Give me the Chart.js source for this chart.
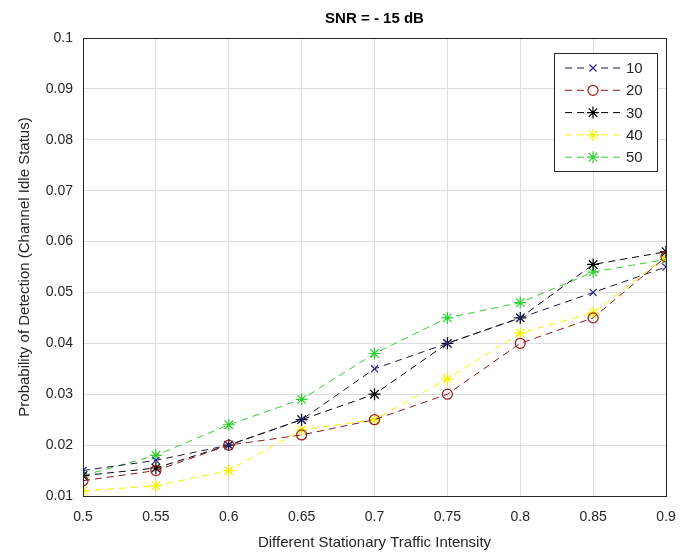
<!DOCTYPE html>
<html>
<head>
<meta charset="utf-8">
<script src="https://cdn.jsdelivr.net/npm/chart.js@4/dist/chart.umd.min.js"></script>
<style>
  body { margin: 0; background: #fff; }
  #wrap { width: 694px; height: 556px; }
</style>
</head>
<body>
<div id="wrap"><canvas id="snrChart" width="694" height="556"></canvas></div>
<script>
// values
const trafficIntensity = [0.5, 0.55, 0.6, 0.65, 0.7, 0.75, 0.8, 0.85, 0.9];
const seriesNames = ['10', '20', '30', '40', '50'];
const pd10 = [0.015, 0.017, 0.020, 0.025, 0.035, 0.040, 0.045, 0.050, 0.055];
const pd20 = [0.013, 0.015, 0.020, 0.022, 0.025, 0.030, 0.040, 0.045, 0.057];
const pd30 = [0.014, 0.0155, 0.020, 0.025, 0.030, 0.040, 0.045, 0.0555, 0.058];
const pd40 = [0.011, 0.012, 0.015, 0.023, 0.025, 0.033, 0.042, 0.046, 0.057];
const pd50 = [0.014, 0.018, 0.024, 0.029, 0.038, 0.045, 0.048, 0.054, 0.0565];
const yTicks = [0.01, 0.02, 0.03, 0.04, 0.05, 0.06, 0.07, 0.08, 0.09, 0.1];
const xTicks = trafficIntensity;

const lineColors = ['#1c1c3a', '#8b1a1a', '#000000', '#f2f200', '#2fd02f'];
const markerColors = ['#25258f', '#a01818', '#000000', '#f2f200', '#2fd02f'];
const markerStyles = ['crossRot', 'circle', 'star', 'star', 'star'];
const markerSizes = [5, 5, 6, 6, 6];
const allSeries = [pd10, pd20, pd30, pd40, pd50];

function makeDataset(i) {
  return {
    label: seriesNames[i],
    data: trafficIntensity.map((x, k) => ({ x: x, y: allSeries[i][k] })),
    borderColor: lineColors[i],
    borderWidth: 1,
    borderDash: [7, 5],
    pointStyle: markerStyles[i],
    pointRadius: markerSizes[i],
    pointBorderColor: markerColors[i],
    pointBackgroundColor: 'rgba(0,0,0,0)',
    pointBorderWidth: 1.2,
    tension: 0,
    fill: false
  };
}

const fmt = v => Number(v.toFixed(2)).toString();

// title, plot box and MATLAB-style legend
const extras = {
  id: 'extras',
  afterDatasetsDraw(chart) {
    const { ctx, chartArea: a } = chart;
    ctx.save();
    ctx.strokeStyle = '#262626';
    ctx.lineWidth = 1;
    ctx.strokeRect(a.left + 0.5, a.top + 0.5, a.right - a.left, a.bottom - a.top);

    ctx.fillStyle = '#000';
    ctx.font = 'bold 15px "Liberation Sans", Arial, sans-serif';
    ctx.textAlign = 'center';
    ctx.textBaseline = 'middle';
    ctx.fillText('SNR = - 15 dB', (a.left + a.right) / 2, 19);

    // legend
    const bx = 554, by = 53, bw = 103, bh = 118;
    ctx.fillStyle = '#fff';
    ctx.fillRect(bx, by, bw, bh);
    ctx.strokeStyle = '#262626';
    ctx.strokeRect(bx + 0.5, by + 0.5, bw, bh);
    ctx.font = '15px "Liberation Sans", Arial, sans-serif';
    ctx.textAlign = 'left';
    chart.data.datasets.forEach((ds, i) => {
      const y = 68 + i * 22.3;
      ctx.strokeStyle = lineColors[i];
      ctx.lineWidth = 1;
      ctx.setLineDash([7, 5]);
      ctx.beginPath();
      ctx.moveTo(565, y);
      ctx.lineTo(621, y);
      ctx.stroke();
      ctx.setLineDash([]);
      ctx.fillStyle = '#fff';
      ctx.fillRect(587, y - 6, 12, 12);
      ctx.strokeStyle = markerColors[i];
      ctx.fillStyle = 'rgba(0,0,0,0)';
      ctx.lineWidth = 1.2;
      Chart.helpers.drawPoint(ctx, { pointStyle: markerStyles[i], radius: markerSizes[i], rotation: 0, borderWidth: 1.2 }, 593, y);
      ctx.fillStyle = '#262626';
      ctx.fillText(ds.label, 626, y + 1);
    });
    ctx.restore();
  }
};

new Chart(document.getElementById('snrChart'), {
  type: 'line',
  data: { datasets: [0, 1, 2, 3, 4].map(makeDataset) },
  options: {
    responsive: false,
    animation: false,
    layout: { padding: { top: 38, right: 28, left: 12, bottom: 0 } },
    plugins: { legend: { display: false }, title: { display: false }, tooltip: { enabled: false } },
    scales: {
      x: {
        type: 'linear',
        min: 0.5, max: 0.9,
        afterBuildTicks: s => { s.ticks = xTicks.map(v => ({ value: v })); },
        afterFit: s => { s.height = 60; },
        ticks: { callback: v => fmt(v), color: '#262626', font: { size: 14, family: '"Liberation Sans", Arial' }, padding: 13, maxRotation: 0 },
        grid: { color: '#dedede', drawTicks: false },
        border: { display: false },
        title: { display: true, text: 'Different Stationary Traffic Intensity', color: '#262626', font: { size: 15, family: '"Liberation Sans", Arial' }, padding: { top: 4 } }
      },
      y: {
        min: 0.01, max: 0.1,
        afterBuildTicks: s => { s.ticks = yTicks.map(v => ({ value: v })); },
        afterFit: s => { s.width = 71; },
        ticks: { callback: v => fmt(v), color: '#262626', font: { size: 14, family: '"Liberation Sans", Arial' }, padding: 10 },
        grid: { color: '#dedede', drawTicks: false },
        border: { display: false },
        title: { display: true, text: 'Probability of Detection (Channel Idle Status)', color: '#262626', font: { size: 15, family: '"Liberation Sans", Arial' }, padding: { bottom: 2 } }
      }
    }
  },
  plugins: [extras]
});
</script>
</body>
</html>
